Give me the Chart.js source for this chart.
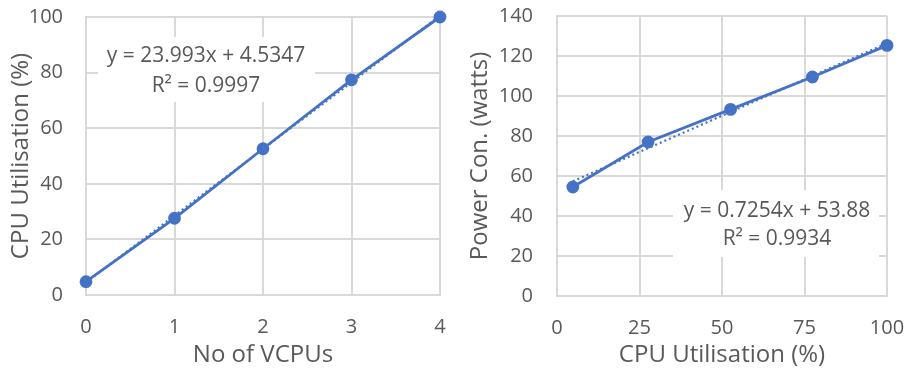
<!DOCTYPE html>
<html>
<head>
<meta charset="utf-8">
<script src="https://cdn.jsdelivr.net/npm/chart.js@4.4.1/dist/chart.umd.min.js"></script>
<style>
  html, body { margin: 0; padding: 0; background: #ffffff; }
  #wrap { position: relative; width: 907px; height: 372px; }
  #left { position: absolute; left: 0; top: 0; }
  #right { position: absolute; left: 455px; top: 0; }
</style>
</head>
<body>
<div id="wrap">
  <canvas id="left" width="455" height="372"></canvas>
  <canvas id="right" width="452" height="372"></canvas>
</div>
<script>
// Measured data: CPU utilisation against number of VCPUs, and power draw against utilisation
const vcpuCounts = [0, 1, 2, 3, 4];
const cpuUtilisation = [4.8, 27.6, 52.6, 77.4, 100];
const powerWatts = [54.5, 77, 93.3, 109.5, 125.3];

// Linear trendline coefficients
const utilSlope = 23.993;
const utilIntercept = 4.5347;
const utilR2 = 0.9997;
const powerSlope = 0.7254;
const powerIntercept = 53.88;
const powerR2 = 0.9934;

const BLUE = '#4472C4';
const GRID = '#d9d9d9';
const TEXT = '#595959';
const FONT = "'Open Sans', sans-serif";

function trend(slope, intercept, xs) {
  const x0 = Math.min(...xs), x1 = Math.max(...xs);
  return [{ x: x0, y: slope * x0 + intercept }, { x: x1, y: slope * x1 + intercept }];
}

function pairs(xs, ys) { return xs.map((x, i) => ({ x, y: ys[i] })); }

// Draws the trendline equation label on a white box over the grid
const equationLabel = {
  id: 'equationLabel',
  beforeDatasetsDraw(chart, args, opts) {
    const ctx = chart.ctx;
    ctx.save();
    ctx.fillStyle = '#ffffff';
    ctx.fillRect(opts.box[0], opts.box[1], opts.box[2], opts.box[3]);
    ctx.fillStyle = TEXT;
    ctx.font = "21px " + FONT;
    ctx.textAlign = 'center';
    ctx.textBaseline = 'middle';
    opts.lines.forEach((t, i) => ctx.fillText(t, opts.cx, opts.cy[i]));
    ctx.restore();
  }
};

function makeChart(id, xs, ys, fit, cfg) {
  return new Chart(document.getElementById(id), {
    type: 'scatter',
    data: {
      datasets: [
        {
          data: pairs(xs, ys),
          showLine: true,
          clip: false,
          borderColor: BLUE,
          backgroundColor: BLUE,
          borderWidth: 2.8,
          pointRadius: 5,
          pointHoverRadius: 5,
          order: 1
        },
        {
          data: trend(fit.slope, fit.intercept, xs),
          showLine: true,
          clip: false,
          borderColor: BLUE,
          borderWidth: 2.2,
          borderDash: [2, 3],
          pointRadius: 0,
          order: 2
        }
      ]
    },
    options: {
      responsive: false,
      animation: false,
      layout: { padding: { top: cfg.padTop, right: cfg.padRight, left: 0, bottom: 0 } },
      plugins: {
        legend: { display: false },
        tooltip: { enabled: false },
        equationLabel: {
          box: cfg.box,
          cx: cfg.cx,
          cy: cfg.cy,
          lines: [
            'y = ' + fit.slope + 'x + ' + fit.intercept,
            'R\u00B2 = ' + fit.r2
          ]
        }
      },
      scales: {
        x: {
          type: 'linear',
          min: cfg.xMin, max: cfg.xMax,
          afterFit(s) { s.height = cfg.xAxisHeight; s.paddingLeft = 0; s.paddingRight = 0; },
          grid: { color: GRID, lineWidth: 2, drawTicks: false },
          border: { color: GRID, width: 2 },
          ticks: { stepSize: cfg.xStep, padding: 20, color: TEXT, font: { family: FONT, size: 20 } },
          title: {
            display: true, text: cfg.xTitle, color: TEXT,
            font: { family: FONT, size: 24 }, padding: { top: 0, bottom: 2 }
          }
        },
        y: {
          min: cfg.yMin, max: cfg.yMax,
          afterFit(s) { s.width = cfg.yAxisWidth; s.paddingTop = 0; s.paddingBottom = 0; },
          grid: { color: GRID, lineWidth: 2, drawTicks: false },
          border: { color: GRID, width: 2 },
          ticks: { stepSize: cfg.yStep, padding: cfg.yTickPad, color: TEXT, font: { family: FONT, size: 20 } },
          title: {
            display: true, text: cfg.yTitle, color: TEXT,
            font: { family: FONT, size: 24 }, padding: { top: cfg.yTitlePad, bottom: 0 }
          }
        }
      }
    },
    plugins: [equationLabel]
  });
}

makeChart('left', vcpuCounts, cpuUtilisation,
  { slope: utilSlope, intercept: utilIntercept, r2: utilR2 },
  {
    xMin: 0, xMax: 4, xStep: 1, yMin: 0, yMax: 100, yStep: 20,
    xTitle: 'No of VCPUs', yTitle: 'CPU Utilisation (%)',
    padTop: 17, padRight: 15, xAxisHeight: 77, yAxisWidth: 86,
    yTickPad: 23, yTitlePad: 7,
    box: [98, 37, 217, 65], cx: 206, cy: [56, 86]
  });

makeChart('right', cpuUtilisation, powerWatts,
  { slope: powerSlope, intercept: powerIntercept, r2: powerR2 },
  {
    xMin: 0, xMax: 100, xStep: 25, yMin: 0, yMax: 140, yStep: 20,
    xTitle: 'CPU Utilisation (%)', yTitle: 'Power Con. (watts)',
    padTop: 16, padRight: 20, xAxisHeight: 76, yAxisWidth: 102,
    yTickPad: 24, yTitlePad: 11,
    box: [218, 190, 206, 67], cx: 322, cy: [211, 239]
  });
</script>
</body>
</html>
